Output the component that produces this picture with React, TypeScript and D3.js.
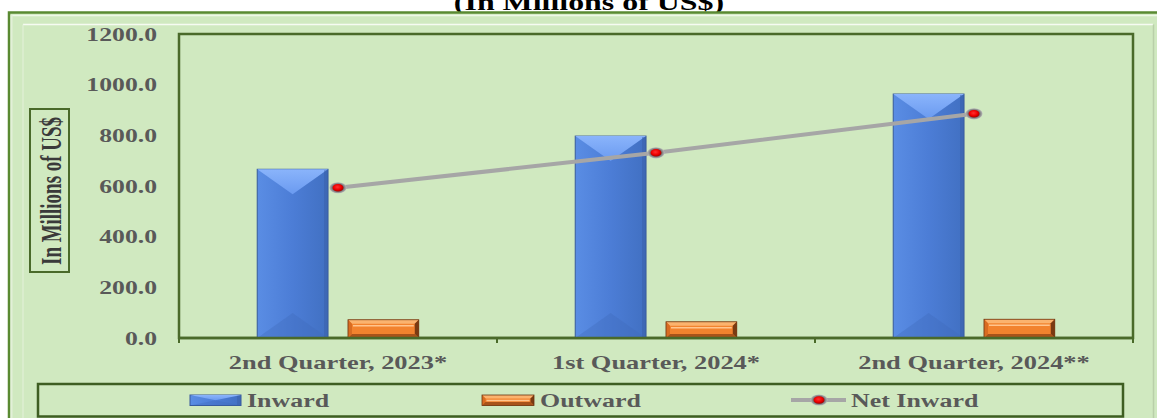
import React from "react";
import * as d3 from "d3";

const categories = ["2nd Quarter, 2023*", "1st Quarter, 2024*", "2nd Quarter, 2024**"];
const seriesNames = ["Inward", "Outward"];
const inward = [666, 797, 963];
const outward = [72, 64, 74];
const netInward = [593, 731, 885];
const yTicks = [0, 200, 400, 600, 800, 1000, 1200];
const titleText = "(In Millions of US$)";
const yAxisTitle = "In Millions of US$";
const legendLabels = ["Inward", "Outward", "Net Inward"];

const W = 1157;
const H = 418;
const PL = 179, PR = 1133, PT = 34, PB = 338;
const FONT = "'Liberation Serif', 'Times New Roman', serif";
const BG = "#d0e9c0";
const FRAME = "#4a6a2a";
const SX = 1.39;

function InwardBar({ x, y, w, h }: { x: number; y: number; w: number; h: number }) {
  const d = Math.min(25, h / 2);
  return (
    <g>
      <rect x={x} y={y} width={w} height={h} fill="url(#blueSide)" stroke="#36599a" strokeWidth={1} />
      <polygon points={`${x},${y} ${x + w},${y} ${x + w / 2},${y + d}`} fill="url(#blueTop)" />
      <polygon points={`${x},${y + h} ${x + w},${y + h} ${x + w / 2},${y + h - d}`} fill="#3f6bbb" opacity={0.35} />
      <rect x={x + w - 4} y={y + 1} width={4} height={h - 1} fill="#3a60a8" opacity={0.5} />
    </g>
  );
}

function OutwardBar({ x, y, w, h }: { x: number; y: number; w: number; h: number }) {
  const b = Math.min(4, h / 3);
  return (
    <g>
      <rect x={x} y={y} width={w} height={h} fill="#f2832e" />
      <polygon points={`${x},${y} ${x + w},${y} ${x + w - b},${y + b} ${x + b},${y + b}`} fill="#fbb36e" />
      <polygon points={`${x},${y} ${x + b},${y + b} ${x + b},${y + h - b} ${x},${y + h}`} fill="#d96c22" />
      <polygon points={`${x + w},${y} ${x + w - b},${y + b} ${x + w - b},${y + h - b} ${x + w},${y + h}`} fill="#7a3a12" />
      <polygon points={`${x},${y + h} ${x + b},${y + h - b} ${x + w - b},${y + h - b} ${x + w},${y + h}`} fill="#a8531a" />
      <line x1={x + b + 1} x2={x + w - b - 1} y1={y + b + 2} y2={y + b + 2} stroke="#ffc58e" strokeWidth={1.5} />
      <rect x={x} y={y} width={w} height={h} fill="none" stroke="#6b3410" strokeWidth={0.8} />
    </g>
  );
}

function Marker({ cx, cy }: { cx: number; cy: number }) {
  return (
    <g>
      <ellipse cx={cx} cy={cy} rx={8.5} ry={5.6} fill="url(#markerHalo)" />
      <ellipse cx={cx} cy={cy} rx={5.5} ry={3.8} fill="url(#markerRed)" />
    </g>
  );
}

export default function App() {
  const x = d3.scaleBand<string>().domain(categories).range([PL, PR]).padding(0);
  const sub = d3
    .scaleBand<string>()
    .domain(seriesNames)
    .range([0, x.bandwidth()])
    .paddingInner(0.22)
    .paddingOuter(0.862);
  const y = d3.scaleLinear().domain([0, 1200]).range([PB, PT]);
  const fmt = d3.format(".1f");
  const cx = (c: string) => (x(c) as number) + x.bandwidth() / 2;
  const line = d3
    .line<number>()
    .x((_, i) => cx(categories[i]))
    .y((v) => y(v));

  const tickXs = [...categories.map((c) => x(c) as number), PR];

  return (
    <svg
      width={W}
      height={H}
      style={{ position: "absolute", left: 0, top: 0, display: "block" }}
      fontFamily={FONT}
    >
      <defs>
        <linearGradient id="blueSide" x1="0" x2="1" y1="0" y2="0">
          <stop offset="0%" stopColor="#5a8de4" />
          <stop offset="50%" stopColor="#4c7dd6" />
          <stop offset="100%" stopColor="#4170c2" />
        </linearGradient>
        <linearGradient id="blueTop" x1="0" x2="0" y1="0" y2="1">
          <stop offset="0%" stopColor="#8ab4fb" />
          <stop offset="100%" stopColor="#6a9af0" />
        </linearGradient>
        <radialGradient id="markerHalo" cx="0.5" cy="0.5" r="0.5">
          <stop offset="0%" stopColor="#505050" />
          <stop offset="70%" stopColor="#7a7a7a" />
          <stop offset="100%" stopColor="#b8b8b8" />
        </radialGradient>
        <radialGradient id="markerRed" cx="0.45" cy="0.4" r="0.6">
          <stop offset="0%" stopColor="#ff3030" />
          <stop offset="60%" stopColor="#ee0000" />
          <stop offset="100%" stopColor="#a00000" />
        </radialGradient>
      </defs>

      <rect x={0} y={0} width={W} height={H} fill="#ffffff" />

      {/* Title (partly above the visible area, as in the reference) */}
      <text
        transform={`translate(589, 10) scale(1.33, 1)`}
        textAnchor="middle"
        fontSize={24}
        fontWeight="bold"
        fill="#000"
      >
        {titleText}
      </text>

      {/* Outer chart frame */}
      <rect x={9} y={12.5} width={1180} height={440} fill={BG} stroke="#5a8a32" strokeWidth={2.5} />
      <line x1={11} x2={1157} y1={15.5} y2={15.5} stroke="#eef8e6" strokeWidth={1.5} />
      <line x1={11.5} x2={11.5} y1={15} y2={H} stroke="#e2f0d8" strokeWidth={2} />
      <line x1={23} x2={1153} y1={24.5} y2={24.5} stroke="#f6fbf2" strokeWidth={1.5} />
      <line x1={23} x2={23} y1={24.5} y2={H} stroke="#e4f1da" strokeWidth={1} />
      <line x1={1153.5} x2={1153.5} y1={24.5} y2={H} stroke="#b9cfa9" strokeWidth={1.5} />

      {/* Plot area */}
      <rect x={PL} y={PT} width={PR - PL} height={PB - PT} fill={BG} stroke={FRAME} strokeWidth={2.5} />

      {/* Bars */}
      {categories.map((c, i) => {
        const x0 = x(c) as number;
        const xi = x0 + (sub("Inward") as number);
        const xo = x0 + (sub("Outward") as number);
        const bw = sub.bandwidth();
        return (
          <g key={c}>
            <InwardBar x={xi} y={y(inward[i])} w={bw} h={PB - y(inward[i])} />
            <OutwardBar x={xo} y={y(outward[i])} w={bw} h={PB - y(outward[i])} />
          </g>
        );
      })}

      {/* Axis line + ticks */}
      <line x1={PL} x2={PR} y1={PB} y2={PB} stroke={FRAME} strokeWidth={2.5} />
      {tickXs.map((tx, i) => (
        <line key={i} x1={tx} x2={tx} y1={PB} y2={PB + 5} stroke={FRAME} strokeWidth={2} />
      ))}

      {/* Net inward line */}
      <path d={line(netInward) || ""} fill="none" stroke="#a6a6a6" strokeWidth={4} />
      {netInward.map((v, i) => (
        <Marker key={i} cx={cx(categories[i])} cy={y(v)} />
      ))}

      {/* Y tick labels */}
      {yTicks.map((t) => (
        <text
          key={t}
          transform={`translate(157, ${y(t) + 6.5}) scale(${SX}, 1)`}
          textAnchor="end"
          fontSize={18.5}
          fontWeight="bold"
          fill="#595959"
        >
          {fmt(t)}
        </text>
      ))}

      {/* Category labels */}
      {categories.map((c) => (
        <text
          key={c}
          transform={`translate(${cx(c)}, 369) scale(${SX}, 1)`}
          textAnchor="middle"
          fontSize={19}
          fontWeight="bold"
          fill="#595959"
        >
          {c}
        </text>
      ))}

      {/* Y axis title */}
      <rect x={30} y={109} width={39} height={163} fill="none" stroke={FRAME} strokeWidth={2} />
      <text
        transform={`translate(60.5, 191) rotate(-90) scale(1, 1.5)`}
        textAnchor="middle"
        fontSize={19.5}
        fontWeight="bold"
        fill="#3a3a3a"
        textLength={148}
        lengthAdjust="spacingAndGlyphs"
      >
        {yAxisTitle}
      </text>

      {/* Legend */}
      <rect x={38} y={384} width={1085} height={32.5} fill="none" stroke="#3e5e22" strokeWidth={2.5} />
      <g>
        <InwardBar x={190} y={395} w={51} h={10.5} />
        <text transform={`translate(247, 406.5) scale(1.33, 1)`} fontSize={19.5} fontWeight="bold" fill="#595959">
          {legendLabels[0]}
        </text>
        <OutwardBar x={482} y={395} w={52} h={10.5} />
        <text transform={`translate(540, 406.5) scale(1.33, 1)`} fontSize={19.5} fontWeight="bold" fill="#595959">
          {legendLabels[1]}
        </text>
        <line x1={791} x2={846} y1={400} y2={400} stroke="#a6a6a6" strokeWidth={4} />
        <Marker cx={819} cy={400} />
        <text transform={`translate(851, 406.5) scale(1.33, 1)`} fontSize={19.5} fontWeight="bold" fill="#595959">
          {legendLabels[2]}
        </text>
      </g>
    </svg>
  );
}
